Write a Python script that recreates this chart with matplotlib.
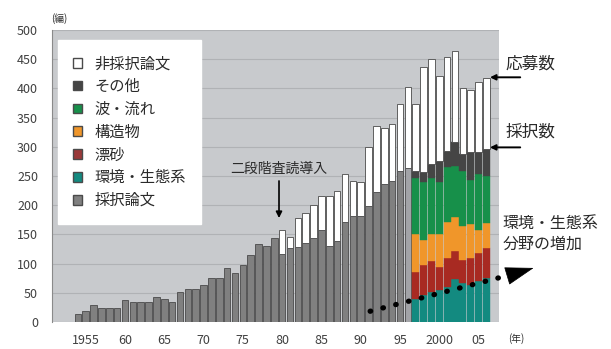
#!/usr/bin/env python3
"""Stacked bar chart: submitted / accepted papers per year, 1954-2006."""

import matplotlib

matplotlib.use("Agg")
import matplotlib.pyplot as plt
from matplotlib.patches import Patch
import numpy as np

plt.rcParams["font.family"] = ["Noto Sans CJK JP", "DejaVu Sans"]

# accepted papers (single gray bar), 1954-1996
gray_years = list(range(1954, 1997))
accepted_gray = [14, 19, 29, 24, 24, 24, 37, 35, 34, 34, 43, 40, 34, 52, 56, 56,
                 64, 75, 75, 92, 84, 97, 114, 134, 130, 144, 116, 126, 129, 136,
                 143, 158, 130, 138, 171, 181, 181, 198, 222, 236, 241, 259, 264]

# accepted papers by field, 1997-2006
field_years = list(range(1997, 2007))
env = [40, 46, 51, 54, 60, 73, 66, 64, 70, 76]
sand = [46, 52, 53, 41, 49, 48, 40, 45, 48, 51]
struct = [64, 43, 46, 56, 63, 59, 58, 58, 40, 43]
wave = [97, 98, 97, 88, 93, 87, 95, 77, 95, 80]
other = [12, 17, 23, 37, 28, 41, 28, 47, 38, 47]

# submitted papers (応募数), 1980-2006
sub_years = list(range(1980, 2007))
submitted = [157, 146, 178, 187, 201, 215, 215, 224, 253, 241, 239, 299, 336,
             333, 339, 374, 402, 374, 437, 450, 422, 454, 464, 401, 397, 411, 417]

tick_years = [1955, 1960, 1965, 1970, 1975, 1980, 1985, 1990, 1995, 2000, 2005]
tick_labels = ["1955", "60", "65", "70", "75", "80", "85", "90", "95", "2000", "05"]

C_BG = "#c8cacd"
C_GRAY = "#808080"
C_GRAY_LIGHT = "#a2a3a7"
C_EDGE = "#4a4a4a"
C_ENV = "#138a80"
C_SAND = "#a82a22"
C_STRUCT = "#f0962a"
C_WAVE = "#17904a"
C_OTHER = "#454545"
TXT = "#2a2a2a"

fig = plt.figure(figsize=(6.11, 3.49), dpi=100)
ax = fig.add_axes([0.085, 0.0774, 0.7317, 0.8366])
ax.set_facecolor(C_BG)

W = 0.84
gray_colors = [C_GRAY] * len(gray_years)
gray_colors[-1] = C_GRAY_LIGHT
ax.bar(gray_years, accepted_gray, width=W, color=gray_colors,
       edgecolor=C_EDGE, linewidth=0.6, zorder=3)

bottom = np.zeros(len(field_years))
for vals, col in [(env, C_ENV), (sand, C_SAND), (struct, C_STRUCT),
                  (wave, C_WAVE), (other, C_OTHER)]:
    ax.bar(field_years, vals, bottom=bottom, width=0.92, color=col,
           edgecolor=col, linewidth=0.3, zorder=3)
    bottom += np.array(vals)

accepted_all = dict(zip(gray_years, accepted_gray))
accepted_all.update(zip(field_years, bottom))
acc_sub = np.array([accepted_all[y] for y in sub_years])
rejected = np.array(submitted) - acc_sub
ax.bar(sub_years, rejected, bottom=acc_sub, width=W, color="white",
       edgecolor=C_EDGE, linewidth=0.6, zorder=3)

ax.set_xlim(1950.7, 2007.6)
ax.set_ylim(0, 500)
ax.set_yticks(np.arange(0, 501, 50))
ax.set_xticks(tick_years)
ax.set_xticklabels(tick_labels)
ax.tick_params(length=0, labelsize=9, colors="#404040")
ax.tick_params(axis="y", pad=10)
ax.tick_params(axis="x", pad=9)
ax.grid(axis="y", color="#b0b2b5", linewidth=0.8, zorder=0)
for side in ["top", "right", "bottom"]:
    ax.spines[side].set_visible(False)
ax.spines["left"].set_color("#8a8a8a")

fig.text(59 / 611, 1 - 19 / 349, "(編)", fontsize=7, color=TXT,
         ha="center", va="center")
fig.text(516 / 611, 1 - 339 / 349, "(年)", fontsize=7, color=TXT,
         ha="center", va="center")

handles = [
    Patch(facecolor="white", edgecolor=C_EDGE, label="非採択論文"),
    Patch(facecolor=C_OTHER, edgecolor=C_EDGE, label="その他"),
    Patch(facecolor=C_WAVE, edgecolor=C_EDGE, label="波・流れ"),
    Patch(facecolor=C_STRUCT, edgecolor=C_EDGE, label="構造物"),
    Patch(facecolor="#9a3838", edgecolor=C_EDGE, label="漂砂"),
    Patch(facecolor=C_ENV, edgecolor=C_EDGE, label="環境・生態系"),
    Patch(facecolor=C_GRAY, edgecolor=C_EDGE, label="採択論文"),
]
leg = ax.legend(handles=handles, loc="upper left", bbox_to_anchor=(0.013, 0.966),
                borderaxespad=0, fontsize=11, handlelength=0.6, handleheight=0.6,
                handletextpad=0.8, labelspacing=0.38, borderpad=1.0,
                frameon=True, fancybox=False, labelcolor=TXT)
leg.get_frame().set_facecolor("white")
leg.get_frame().set_edgecolor("white")
leg.get_frame().set_alpha(1)
leg.set_zorder(5)

# 二段階査読導入
ax.annotate("二段階査読導入", xy=(1979.6, 178), xytext=(1979.6, 263),
            ha="center", va="center", fontsize=10, color=TXT, zorder=6,
            arrowprops=dict(arrowstyle="-|>", color="black", lw=1.2,
                            mutation_scale=9, shrinkA=2, shrinkB=0))

# 応募数 / 採択数
ax.annotate("", xy=(2006.45, 419), xytext=(2010.3, 419), annotation_clip=False,
            arrowprops=dict(arrowstyle="-|>", color="black", lw=1.4,
                            mutation_scale=8, shrinkA=0, shrinkB=0))
ax.text(2011.6, 442, "応募数", fontsize=12, color=TXT, ha="center",
        va="center", clip_on=False)
ax.annotate("", xy=(2006.45, 299), xytext=(2010.3, 299), annotation_clip=False,
            arrowprops=dict(arrowstyle="-|>", color="black", lw=1.4,
                            mutation_scale=8, shrinkA=0, shrinkB=0))
ax.text(2011.6, 326, "採択数", fontsize=12, color=TXT, ha="center",
        va="center", clip_on=False)

# 環境・生態系分野の増加
ax.text(2008.0, 151, "環境・生態系\n分野の増加", fontsize=11.5, color=TXT,
        ha="left", va="center", linespacing=1.35, clip_on=False)
ax.plot([1991.2, 2008.8], [18.4, 79.9], color="black", lw=3.8,
        linestyle=(0, (0.1, 2.4)), dash_capstyle="round", clip_on=False,
        zorder=6)
ax.annotate("", xy=(2012.0, 92.5), xytext=(2009.4, 82.0), annotation_clip=False,
            arrowprops=dict(arrowstyle="-|>,head_length=1.0,head_width=0.32",
                            color="black", lw=0.5, mutation_scale=19,
                            shrinkA=0, shrinkB=0))

fig.savefig("out.png", dpi=100)
